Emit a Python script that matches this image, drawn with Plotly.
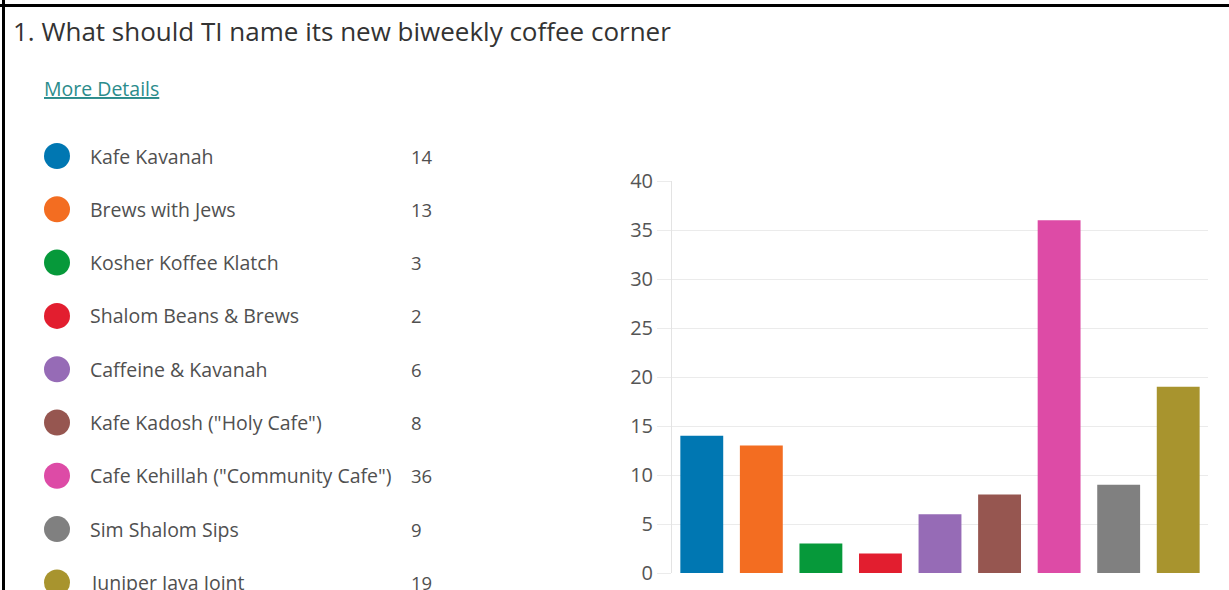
import plotly.graph_objects as go

# ---- data ----
names = [
    "Kafe Kavanah",
    "Brews with Jews",
    "Kosher Koffee Klatch",
    "Shalom Beans & Brews",
    "Caffeine & Kavanah",
    'Kafe Kadosh ("Holy Cafe")',
    'Cafe Kehillah ("Community Cafe")',
    "Sim Shalom Sips",
    "Juniper Java Joint",
]
votes = [14, 13, 3, 2, 6, 8, 36, 9, 19]
colors = ["#0077B2", "#F36D21", "#06993A", "#E21E2F", "#966BB6",
          "#965650", "#DD4BA6", "#808080", "#A8942E"]
y_ticks = [0, 5, 10, 15, 20, 25, 30, 35, 40]
title_text = "1. What should TI name its new biweekly coffee corner"
link_text = "More Details"

W, H = 1229, 590
FONT = "Open Sans"

fig = go.Figure()

# main bar chart
fig.add_trace(go.Bar(
    x=names, y=votes, marker=dict(color=colors, line=dict(width=0)),
    xaxis="x", yaxis="y", showlegend=False, hoverinfo="x+y",
))

# legend-like list (markers on a pixel-scaled helper axis)
fig.add_trace(go.Scatter(
    x=[57] * len(names), y=names, mode="markers",
    marker=dict(size=26, color=colors, line=dict(width=0)),
    xaxis="x2", yaxis="y2", showlegend=False, hoverinfo="skip",
    cliponaxis=True,
))

annotations = []
for n, v in zip(names, votes):
    annotations.append(dict(
        x=88, y=n, xref="x2", yref="y2", text=n, showarrow=False,
        xanchor="left", yanchor="middle",
        font=dict(family=FONT, size=19.5, color="#505050"),
    ))
    annotations.append(dict(
        x=409, y=n, xref="x2", yref="y2", text=str(v), showarrow=False,
        xanchor="left", yanchor="middle",
        font=dict(family=FONT, size=18.5, color="#505050"),
    ))

annotations.append(dict(
    x=11 / W, y=1 - 31 / H, xref="paper", yref="paper", text=title_text,
    showarrow=False, xanchor="left", yanchor="middle",
    font=dict(family=FONT, size=26, color="#333333"),
))
annotations.append(dict(
    x=42 / W, y=1 - 89 / H, xref="paper", yref="paper",
    text="<u>" + link_text + "</u>",
    showarrow=False, xanchor="left", yanchor="middle",
    font=dict(family=FONT, size=19.5, color="#2B8C8C"),
))

row_h = 53.3
first_row = 156
top = -first_row / row_h
bottom = top + H / row_h

plot_left, plot_right = 672, 1208
plot_top, plot_bottom = 181, 573

fig.update_layout(
    width=W, height=H,
    margin=dict(l=0, r=0, t=0, b=0, pad=0, autoexpand=False),
    paper_bgcolor="white", plot_bgcolor="rgba(0,0,0,0)",
    font=dict(family=FONT),
    bargap=0.28,
    xaxis=dict(
        domain=[plot_left / W, plot_right / W],
        type="category", range=[-0.5, len(names) - 0.5],
        showticklabels=False, showgrid=False, zeroline=False,
        showline=False, ticks="", fixedrange=True, automargin=False,
    ),
    yaxis=dict(
        domain=[1 - plot_bottom / H, 1 - plot_top / H],
        range=[0, 40], tickvals=y_ticks,
        showgrid=True, gridcolor="#EBEBEB", gridwidth=1,
        zeroline=False, showline=True, linecolor="#E3E3E3", linewidth=1,
        ticks="outside", ticklen=14, tickcolor="#EBEBEB", tickwidth=1,
        tickfont=dict(family=FONT, size=20, color="#555555"),
        ticklabelstandoff=0,
        fixedrange=True, automargin=False,
    ),
    xaxis2=dict(
        domain=[0, 1], range=[0, W], visible=False, fixedrange=True,
        anchor="y2", automargin=False,
    ),
    yaxis2=dict(
        domain=[0, 1], type="category", categoryorder="array",
        categoryarray=names, range=[bottom, top], visible=False,
        fixedrange=True, anchor="x2", automargin=False,
    ),
    annotations=annotations,
    shapes=[
        dict(type="line", xref="paper", yref="paper",
             x0=0, x1=1, y0=1 - 5.5 / H, y1=1 - 5.5 / H,
             line=dict(color="black", width=3)),
        dict(type="line", xref="paper", yref="paper",
             x0=3.5 / W, x1=3.5 / W, y0=0, y1=1,
             line=dict(color="black", width=3)),
    ],
)

fig.write_html(
    "out.html",
    config={"displayModeBar": False},
    post_script="document.body.style.margin='0';document.body.style.overflow='hidden';",
)
